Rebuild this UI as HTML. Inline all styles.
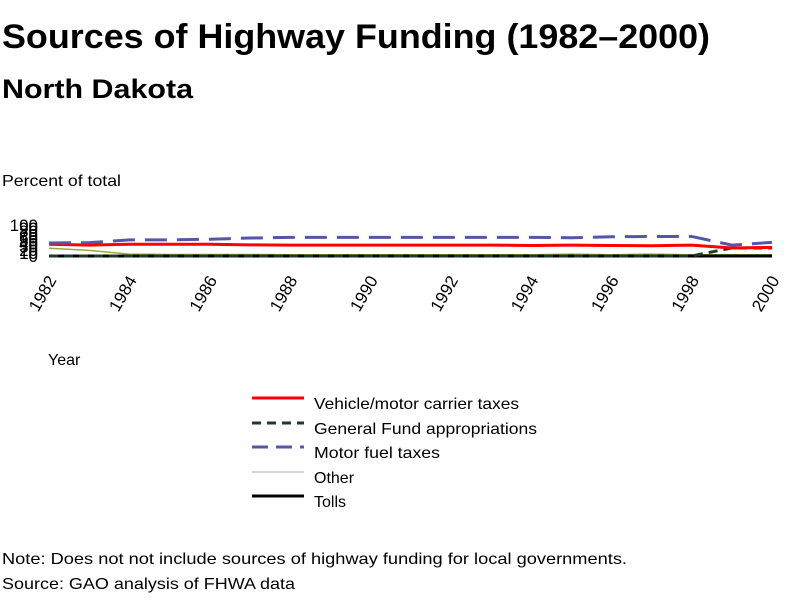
<!DOCTYPE html>
<html><head><meta charset="utf-8"><style>
body{margin:0;background:#fff;}
svg{font-family:"Liberation Sans",Arial,sans-serif;}
</style></head><body>
<svg width="800" height="600">
<text x="2" y="48" font-size="34" font-weight="bold" textLength="708" lengthAdjust="spacingAndGlyphs">Sources of Highway Funding (1982–2000)</text>
<text x="2" y="98" font-size="27" font-weight="bold" textLength="191" lengthAdjust="spacingAndGlyphs">North Dakota</text>
<text x="2" y="186" font-size="16" textLength="119" lengthAdjust="spacingAndGlyphs">Percent of total</text>
<g id="yticks"></g>
<g id="plot"></g>
<g id="xticks"></g>
<text x="48" y="365" font-size="16">Year</text>
<g font-size="16">
 <g><line x1="252" y1="398" x2="304" y2="398" stroke="#ff0000" stroke-width="3"/><text x="314" y="409" textLength="205" lengthAdjust="spacingAndGlyphs">Vehicle/motor carrier taxes</text></g>
 <g><line x1="252" y1="423" x2="304" y2="423" stroke="#1a3a2a" stroke-width="3" stroke-dasharray="9,6"/><text x="314" y="434" textLength="223" lengthAdjust="spacingAndGlyphs">General Fund appropriations</text></g>
 <g><line x1="252" y1="447" x2="304" y2="447" stroke="#5555aa" stroke-width="3" stroke-dasharray="16,8"/><text x="314" y="458" textLength="126" lengthAdjust="spacingAndGlyphs">Motor fuel taxes</text></g>
 <g><line x1="252" y1="472" x2="304" y2="472" stroke="#aaaaaa" stroke-width="1"/><text x="314" y="483">Other</text></g>
 <g><line x1="252" y1="496" x2="304" y2="496" stroke="#000" stroke-width="3"/><text x="314" y="507">Tolls</text></g>
</g>
<text x="2" y="564" font-size="16" textLength="625" lengthAdjust="spacingAndGlyphs">Note: Does not not include sources of highway funding for local governments.</text>
<text x="2" y="589" font-size="16" textLength="293" lengthAdjust="spacingAndGlyphs">Source: GAO analysis of FHWA data</text>
</svg>
<script>
const years=[1982,1983,1984,1985,1986,1987,1988,1989,1990,1991,1992,1993,1994,1995,1996,1997,1998,1999,2000];
const vehicle=[38,35,38,38,38,36,35,35,35,35,35,35,34,35,34,33,35,26,28];
const generalFund=[0,0,0,0,0,0,0,0,0,0,0,0,0,0,0,0,0,26,26];
const motorFuel=[42,43,52,52,54,58,60,60,60,60,60,60,60,59,62,63,63,35,44];
const other=[25,18,6,5,5,5,4,4,4,4,4,4,4,6,4,6,4,4,4];
const tolls=[0,0,0,0,0,0,0,0,0,0,0,0,0,0,0,0,0,0,0];
const yTicks=[0,10,20,30,40,50,60,70,80,90,100];
const xLabels=[1982,1984,1986,1988,1990,1992,1994,1996,1998,2000];
const NS="http://www.w3.org/2000/svg";
const X=y=>49+(y-1982)*(772-49)/18;
const Y=v=>256-v*0.31;
const plot=document.getElementById('plot');
function series(vals,color,w,dash,name){
 const p=document.createElementNS(NS,'polyline');
 p.setAttribute('points',vals.map((v,i)=>X(years[i])+','+Y(v)).join(' '));
 p.setAttribute('fill','none');p.setAttribute('stroke',color);p.setAttribute('stroke-width',w);
 if(dash)p.setAttribute('stroke-dasharray',dash);
 
 
 plot.appendChild(p);
}
series(other,'#9aaa3a',1.5,null,'series-other');
series(tolls,'#000',3,null,'series-tolls');
series(generalFund,'#1a3a2a',3,'9,6','series-general-fund');
series(vehicle,'#ff0000',3,null,'series-vehicle');
series(motorFuel,'#5555aa',3,'22,10','series-motor-fuel');
const yt=document.getElementById('yticks');
yTicks.forEach(v=>{const t=document.createElementNS(NS,'text');t.setAttribute('x',38);t.setAttribute('y',Y(v)+6);t.setAttribute('text-anchor','end');t.setAttribute('font-size','17');t.textContent=v;


yt.appendChild(t);});
const xt=document.getElementById('xticks');
xLabels.forEach(v=>{const t=document.createElementNS(NS,'text');const x=X(v)+8,y=280;t.setAttribute('x',x);t.setAttribute('y',y);t.setAttribute('text-anchor','end');t.setAttribute('font-size','17');t.setAttribute('transform','rotate(-60 '+x+' '+y+')');t.textContent=v;


xt.appendChild(t);});
</script>
</body></html>
